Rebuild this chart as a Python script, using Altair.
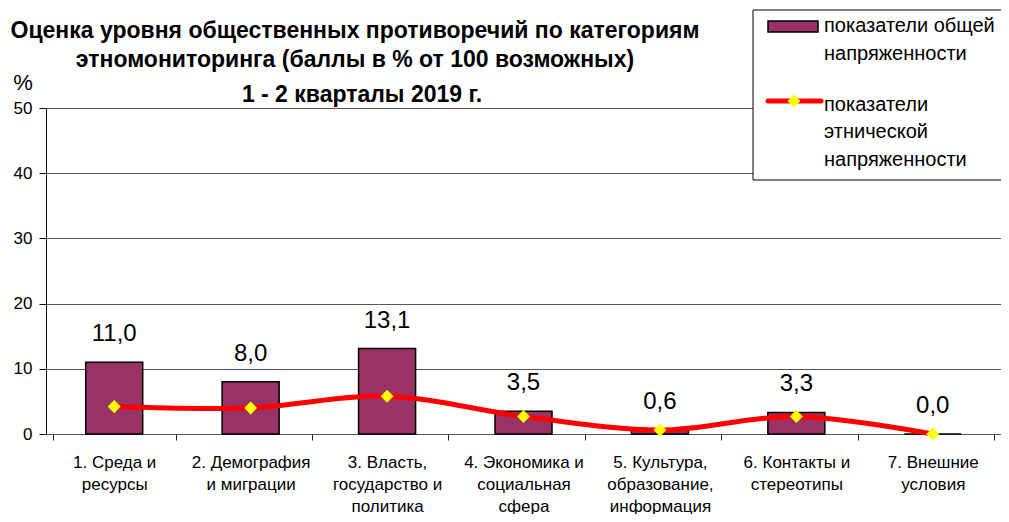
import altair as alt
import pandas as pd

categories = [
    "1. Среда и\nресурсы",
    "2. Демография\nи миграции",
    "3. Власть,\nгосударство и\nполитика",
    "4. Экономика и\nсоциальная\nсфера",
    "5. Культура,\nобразование,\nинформация",
    "6. Контакты и\nстереотипы",
    "7. Внешние\nусловия",
]
general_tension = [11.0, 8.0, 13.1, 3.5, 0.6, 3.3, 0.0]
ethnic_tension = [4.2, 4.0, 5.8, 2.7, 0.6, 2.7, 0.0]
y_ticks = [0, 10, 20, 30, 40, 50]

title_lines = [
    "Оценка уровня общественных противоречий по категориям",
    "этномониторинга (баллы в % от 100 возможных)",
    "1 - 2 кварталы 2019 г.",
]
legend_general = ["показатели общей", "напряженности"]
legend_ethnic = ["показатели", "этнической", "напряженности"]

FONT = "Liberation Sans"

df = pd.DataFrame({"cat": categories, "general": general_tension, "ethnic": ethnic_tension})

x_enc = alt.X(
    "cat:N",
    sort=categories,
    title=None,
    axis=alt.Axis(
        labelExpr="split(datum.label, '\\n')",
        labelAngle=0,
        labelFontSize=17,
        labelLineHeight=22,
        labelPadding=14,
        labelBaseline="top",
        labelColor="black",
        labelFont=FONT,
        tickBand="extent",
        tickSize=6,
        tickColor="#222222",
        domainColor="#555555",
        labelLimit=200,
    ),
)
y_scale = alt.Scale(domain=[0, 50], nice=False)
y_axis = alt.Axis(
    values=y_ticks,
    title=None,
    grid=True,
    gridColor="#555555",
    domainColor="#111111",
    tickColor="#111111",
    tickSize=7,
    labelFontSize=17,
    labelFont=FONT,
    labelColor="black",
    labelPadding=7,
)

base = alt.Chart(df)

bars = base.mark_bar(size=57, fill="#993366", stroke="black", strokeWidth=1.5).encode(
    x=x_enc, y=alt.Y("general:Q", scale=y_scale, axis=y_axis)
)
labels = base.transform_calculate(
    lbl="replace(format(datum.general, '.1f'), '.', ',')"
).mark_text(baseline="alphabetic", dy=-21, fontSize=24, font=FONT, color="black").encode(
    x=alt.X("cat:N", sort=categories), y=alt.Y("general:Q", scale=y_scale), text="lbl:N"
)
line = base.mark_line(color="#ff0000", strokeWidth=5, interpolate="cardinal").encode(
    x=alt.X("cat:N", sort=categories), y=alt.Y("ethnic:Q", scale=y_scale)
)
pts = base.mark_point(shape="diamond", filled=True, color="#ffff00", size=170, opacity=1).encode(
    x=alt.X("cat:N", sort=categories), y=alt.Y("ethnic:Q", scale=y_scale)
)


def txt(s, x, y, size, weight="normal", align="left"):
    return alt.Chart(alt.Data(values=[{"t": s}])).mark_text(
        align=align, baseline="alphabetic", fontSize=size, fontWeight=weight, font=FONT, color="black"
    ).encode(x=alt.value(x), y=alt.value(y), text="t:N")


def one():
    return alt.Chart(alt.Data(values=[{"k": 1}]))


legend_box = one().mark_rect(fill="white", stroke="black", strokeWidth=1).encode(
    x=alt.value(707), x2=alt.value(975), y=alt.value(-98), y2=alt.value(72)
)
legend_swatch = one().mark_rect(fill="#993366", stroke="black", strokeWidth=1.5).encode(
    x=alt.value(722), x2=alt.value(772), y=alt.value(-87), y2=alt.value(-76)
)
legend_line = one().mark_rule(color="#ff0000", strokeWidth=5, strokeCap="round").encode(
    x=alt.value(722), x2=alt.value(775), y=alt.value(-7)
)
legend_pt = one().mark_point(shape="diamond", filled=True, color="#ffff00", size=170, opacity=1).encode(
    x=alt.value(748), y=alt.value(-7)
)

texts = [
    txt(title_lines[0], 309, -70, 23, "bold", "center"),
    txt(title_lines[1], 309, -41, 23, "bold", "center"),
    txt(title_lines[2], 316, -6, 23, "bold", "center"),
    txt("%", -23, -18, 22, "normal", "center"),
    txt(legend_general[0], 778, -76, 20),
    txt(legend_general[1], 778, -48, 20),
    txt(legend_ethnic[0], 778, 3, 20),
    txt(legend_ethnic[1], 778, 30, 20),
    txt(legend_ethnic[2], 778, 58, 20),
]

chart = alt.layer(
    bars, line, pts, labels, legend_box, legend_swatch, legend_line, legend_pt, *texts
).properties(
    width=955,
    height=326,
    autosize=alt.AutoSizeParams(type="none"),
    padding={"left": 38, "top": 100, "right": 0, "bottom": 80},
).configure_view(stroke=None).configure(background="white")

chart.save("out.html", embed_options={"renderer": "svg", "actions": False})
